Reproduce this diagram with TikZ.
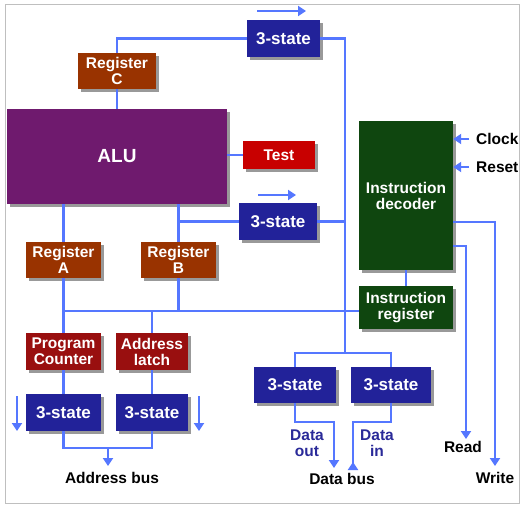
\documentclass[tikz,border=0pt]{standalone}
\usepackage{fontspec}
\setmainfont{Liberation Sans}
\usetikzlibrary{arrows.meta,shadows}
\definecolor{bus}{HTML}{5577FF}
\definecolor{tsblue}{HTML}{222299}
\definecolor{regbrown}{HTML}{993300}
\definecolor{regred}{HTML}{990F0F}
\definecolor{testred}{HTML}{C80000}
\definecolor{alupurple}{HTML}{6F1A6E}
\definecolor{decgreen}{HTML}{0F460F}
\definecolor{dataviolet}{HTML}{2A2A99}
\tikzset{
  box/.style={draw=none, text=white, align=center, inner sep=0pt,
    font=\fontsize{15.5}{16}\selectfont\bfseries,
    drop shadow={shadow xshift=2.5pt, shadow yshift=-2.5pt, fill=black, opacity=0.4}},
  tsbox/.style={box, fill=tsblue, font=\fontsize{17}{17}\selectfont\bfseries},
  regbox/.style={box, fill=regbrown},
  redbox/.style={box, fill=regred},
  greenbox/.style={box, fill=decgreen},
  wire/.style={draw=bus, line width=2.8pt},
  arrowwire/.style={wire, -{Triangle[width=10pt,length=8pt]}},
  lbl/.style={font=\fontsize{15.5}{16}\selectfont\bfseries, text=black, inner sep=0pt, align=center},
  dlbl/.style={lbl, text=dataviolet},
}
\begin{document}
\begin{tikzpicture}[x=1pt,y=-1pt]
\useasboundingbox (0,0) rectangle (528,509);
\fill[white] (0,0) rectangle (528,509);
\draw[black!25, line width=1pt] (5,4) rectangle (519,503);

% nodes
\node[regbox, minimum width=78, minimum height=36] (regC) at (117,71) {Register\\C};
\node[box, fill=alupurple, minimum width=220, minimum height=95, font=\fontsize{19}{19}\selectfont\bfseries] (alu) at (117,156.5) {ALU};
\node[tsbox, minimum width=73, minimum height=37] (ts1) at (283.5,38.5) {3-state};
\node[box, fill=testred, minimum width=72, minimum height=28] (test) at (279,155) {Test};
\node[tsbox, minimum width=78, minimum height=37] (ts2) at (278,221.5) {3-state};
\node[greenbox, minimum width=94, minimum height=149] (dec) at (406,195.5) {Instruction\\decoder};
\node[greenbox, minimum width=94, minimum height=43] (ir) at (406,307.5) {Instruction\\register};
\node[regbox, minimum width=75, minimum height=36] (regA) at (63.5,260) {Register\\A};
\node[regbox, minimum width=75, minimum height=36] (regB) at (178.5,260) {Register\\B};
\node[redbox, minimum width=75, minimum height=37] (pc) at (63.5,351.5) {Program\\Counter};
\node[redbox, minimum width=72, minimum height=37] (al) at (152,351.5) {Address\\latch};
\node[tsbox, minimum width=75, minimum height=37] (ts3) at (63.5,412.5) {3-state};
\node[tsbox, minimum width=72, minimum height=37] (ts4) at (152,412.5) {3-state};
\node[tsbox, minimum width=82, minimum height=36] (ts5) at (295,385) {3-state};
\node[tsbox, minimum width=80, minimum height=36] (ts6) at (391,385) {3-state};

% labels
\node[lbl, anchor=west] (clock) at (476,139) {Clock};
\node[lbl, anchor=west] (reset) at (476,167) {Reset};
\node[lbl] (read) at (463,447) {Read};
\node[lbl] (write) at (495,478) {Write};
\node[lbl] (abus) at (112,478) {Address bus};
\node[lbl] (dbus) at (342,479) {Data bus};
\node[dlbl] (dout) at (307,443) {Data\\out};
\node[dlbl] (din) at (377,443) {Data\\in};

% coordinates
\coordinate (vbusTop) at (345,38.5);
\coordinate (vbusBot) at (345,353);
\coordinate (hb) at (63.5,311);
\coordinate (abj) at (108,448);
\coordinate (clkA) at (469,139);
\coordinate (rstA) at (469,167);
\coordinate (t1a) at (257,11);
\coordinate (t1b) at (306,11);
\coordinate (t2a) at (258,195);
\coordinate (t2b) at (296,195);
\coordinate (la) at (17,396);
\coordinate (lb) at (17,431);
\coordinate (ra) at (199,396);
\coordinate (rb) at (199,431);

% wires
\draw[wire] (regC.north) |- (ts1.west);
\draw[wire] (regC.south) -- (regC.south |- alu.north);
\draw[wire] (ts1.east) -- (vbusTop) -- (vbusBot);
\draw[wire] (alu.east |- test.west) -- (test.west);
\draw[wire] (regA.north |- alu.south) -- (regA.north);
\draw[wire] (regB.north |- alu.south) -- (regB.north);
\draw[wire] (regB.north |- ts2.west) -- (ts2.west);
\draw[wire] (ts2.east) -- (ts2.east -| vbusTop);
\draw[wire] (regA.south) -- (pc.north);
\draw[wire] (hb) -- (hb -| ir.west);
\draw[wire] (regB.south) -- (regB.south |- hb);
\draw[wire] (al.north |- hb) -- (al.north);
\draw[wire] (pc.south) -- (ts3.north);
\draw[wire] (al.south) -- (ts4.north);
\draw[wire] (ts3.south) |- (ts4.south |- abj) -- (ts4.south);
\draw[arrowwire] (abj) -- (abj |- 0,466);
\draw[arrowwire] (la) -- (lb);
\draw[arrowwire] (ra) -- (rb);
\draw[arrowwire] (t1a) -- (t1b);
\draw[arrowwire] (t2a) -- (t2b);
\draw[wire] (ts5.north) |- (vbusBot) -| (ts6.north);
\draw[arrowwire] (ts5.south) |- (334,422) -- (334,468);
\draw[wire] (ts6.south) |- (353,422) -- (353,462);
\draw[wire, -{Triangle[width=10pt,length=8pt,reversed]}] (353,455) -- (353,470);
\draw[wire] (dec.south) -- (ir.north);
\draw[arrowwire] (dec.east |- 0,246) -| (466,439);
\draw[arrowwire] (dec.east |- 0,222) -| (495,466);
\draw[arrowwire] (clkA) -- (clkA -| dec.east);
\draw[arrowwire] (rstA) -- (rstA -| dec.east);
\end{tikzpicture}
\end{document}
